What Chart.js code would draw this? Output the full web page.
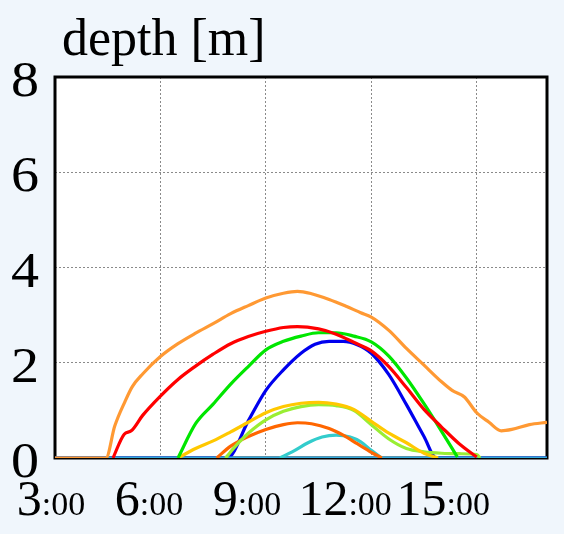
<!DOCTYPE html>
<html>
<head>
<meta charset="utf-8">
<script src="https://cdn.jsdelivr.net/npm/chart.js@4"></script>
<style>
  html, body { margin: 0; padding: 0; background: #f0f6fc; }
  #wrap { width: 564px; height: 534px; }
</style>
</head>
<body>
<div id="wrap"><canvas id="c" width="564" height="534"></canvas></div>
<script>
// hours (x) and depths [m] (y), one pair per curve
const orangeT = [3, 4.45, 4.7, 5.0, 5.2, 5.5, 6, 6.5, 7, 7.5, 8, 8.5, 9, 9.5, 9.9, 10.3, 10.8, 11.3, 11.7, 12, 12.5, 13, 13.5, 14, 14.3, 14.65, 15, 15.35, 15.7, 16, 16.5, 17];
const orangeV = [0, 0, 0.67, 1.2, 1.5, 1.77, 2.13, 2.4, 2.62, 2.82, 3.03, 3.2, 3.36, 3.46, 3.5, 3.45, 3.33, 3.18, 3.05, 2.96, 2.68, 2.3, 1.95, 1.6, 1.42, 1.28, 0.95, 0.75, 0.57, 0.6, 0.7, 0.75];

const redT = [4.65, 4.97, 5.17, 5.5, 6, 6.5, 7, 7.5, 8, 8.5, 9, 9.5, 9.9, 10.5, 11, 11.5, 12, 12.5, 13, 13.5, 14, 14.5, 15];
const redV = [0, 0.5, 0.57, 0.9, 1.3, 1.65, 1.93, 2.18, 2.4, 2.55, 2.66, 2.74, 2.76, 2.71, 2.6, 2.43, 2.25, 1.92, 1.48, 1.02, 0.65, 0.3, 0.02];

const greenT = [6.5, 7, 7.5, 8, 8.5, 9, 9.5, 10, 10.5, 11, 11.5, 12, 12.5, 13, 13.5, 14, 14.45];
const greenV = [0, 0.72, 1.13, 1.55, 1.92, 2.27, 2.45, 2.56, 2.63, 2.63, 2.56, 2.44, 2.14, 1.68, 1.14, 0.56, 0.02];

const yellowT = [6.5, 7, 7.5, 8, 8.5, 9, 9.5, 10, 10.5, 11, 11.5, 12, 12.5, 13, 13.5, 13.9];
const yellowV = [0, 0.2, 0.36, 0.55, 0.75, 0.95, 1.08, 1.15, 1.17, 1.13, 1.02, 0.77, 0.52, 0.32, 0.1, 0];

const lightGreenT = [7.85, 8.2, 8.5, 9, 9.5, 10, 10.5, 11, 11.5, 12, 12.5, 13, 13.5, 14, 14.5, 15, 15.1];
const lightGreenV = [0, 0.3, 0.52, 0.8, 0.98, 1.08, 1.12, 1.1, 1.0, 0.7, 0.4, 0.2, 0.13, 0.1, 0.09, 0.07, 0];

const darkOrangeT = [7.6, 8, 8.5, 9, 9.5, 9.9, 10.3, 10.8, 11.2, 11.6, 12, 12.3];
const darkOrangeV = [0, 0.25, 0.45, 0.6, 0.7, 0.74, 0.72, 0.62, 0.48, 0.3, 0.12, 0];

const cyanT = [9.4, 9.8, 10.2, 10.6, 11, 11.4, 11.7, 12, 12.3];
const cyanV = [0, 0.15, 0.32, 0.44, 0.48, 0.44, 0.34, 0.16, 0];

const skyT = [3, 17];
const skyV = [0, 0];

const blueT = [3, 7.9, 8.5, 9, 9.5, 10, 10.4, 10.8, 11.2, 11.6, 12, 12.5, 13, 13.5, 13.85, 17];
const blueV = [0, 0, 0.78, 1.42, 1.85, 2.2, 2.39, 2.45, 2.45, 2.38, 2.2, 1.75, 1.12, 0.45, 0, 0];

const xTicks = [3, 6, 9, 12, 15];
const yTicks = [0, 2, 4, 6, 8];
const title = "depth [m]";

const pts = (t, v) => t.map((x, i) => ({ x: x, y: v[i] }));

const line = (label, t, v, color) => ({
    label: label,
    data: pts(t, v),
    borderColor: color,
    borderWidth: 3.2,
    pointRadius: 0,
    fill: false,
    cubicInterpolationMode: "monotone",
});

// page background, white plot area, frame
const frame = {
    id: "frame",
    beforeDraw(chart) {
        const { ctx, chartArea: a } = chart;
        ctx.save();
        ctx.fillStyle = "#f0f6fc";
        ctx.fillRect(0, 0, chart.width, chart.height);
        ctx.fillStyle = "#ffffff";
        ctx.fillRect(a.left, a.top, a.right - a.left, a.bottom - a.top);
        ctx.restore();
    },
    beforeDatasetsDraw(chart) {
        const { ctx, chartArea: a } = chart;
        ctx.save();
        ctx.strokeStyle = "#000";
        ctx.lineWidth = 3;
        ctx.strokeRect(a.left, a.top, a.right - a.left, a.bottom - a.top);
        ctx.restore();
    },
};

// tick labels: big hour digit, small ":00"
const labels = {
    id: "labels",
    afterDraw(chart) {
        const { ctx } = chart;
        const xs = chart.scales.x, ys = chart.scales.y;
        ctx.save();
        ctx.fillStyle = "#000";
        ctx.textBaseline = "alphabetic";

        ctx.font = "52px 'Liberation Serif'";
        ctx.textAlign = "left";
        ctx.fillText(title, 62, 55);

        // y digits are a little wider than the font's own shape
        ctx.font = "51px 'Liberation Serif'";
        ctx.textAlign = "right";
        yTicks.forEach((v) => {
            ctx.save();
            ctx.translate(39, ys.getPixelForValue(v) + 19);
            ctx.scale(1.1, 1);
            ctx.fillText(String(v), 0, 0);
            ctx.restore();
        });

        ctx.textAlign = "left";
        xTicks.forEach((v) => {
            const big = String(v), small = ":00";
            ctx.font = "50px 'Liberation Serif'";
            const wb = ctx.measureText(big).width;
            ctx.font = "34px 'Liberation Serif'";
            const ws = ctx.measureText(small).width;
            const cx = xs.getPixelForValue(3 + (v - 3) * 0.93) - 4;
            const x0 = cx - (wb + ws) / 2;
            ctx.font = "50px 'Liberation Serif'";
            ctx.fillText(big, x0, 515);
            ctx.font = "34px 'Liberation Serif'";
            ctx.fillText(small, x0 + wb, 515);
        });
        ctx.restore();
    },
};

const gridOpts = { color: "#8a8a8a", lineWidth: 1, drawTicks: false };
const borderOpts = { display: false, dash: [2, 2] };

new Chart(document.getElementById("c"), {
    type: "line",
    data: {
        datasets: [
            line("a", orangeT, orangeV, "#ff9933"),
            line("b", redT, redV, "#ff0000"),
            line("c", greenT, greenV, "#00e600"),
            line("d", yellowT, yellowV, "#ffc800"),
            line("e", lightGreenT, lightGreenV, "#99ee33"),
            line("f", darkOrangeT, darkOrangeV, "#ff6600"),
            line("g", cyanT, cyanV, "#33cccc"),
            line("h", skyT, skyV, "#33aadd"),
            line("i", blueT, blueV, "#0000ee"),
        ],
    },
    options: {
        responsive: false,
        animation: false,
        layout: { padding: { left: 55, top: 77, right: 17, bottom: 76 } },
        plugins: { legend: { display: false }, tooltip: { enabled: false } },
        scales: {
            x: {
                type: "linear",
                min: 3,
                max: 17,
                ticks: { stepSize: 3, display: false },
                border: borderOpts,
                grid: gridOpts,
            },
            y: {
                min: 0,
                max: 8,
                ticks: { stepSize: 2, display: false },
                border: borderOpts,
                grid: gridOpts,
            },
        },
    },
    plugins: [frame, labels],
});
</script>
</body>
</html>
